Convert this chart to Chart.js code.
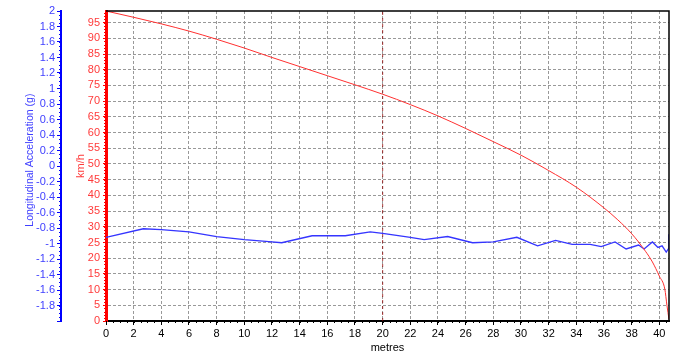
<!DOCTYPE html>
<html>
<head>
<meta charset="utf-8">
<script src="https://cdn.jsdelivr.net/npm/chart.js@4/dist/chart.umd.min.js"></script>
<style>
  html, body { margin: 0; padding: 0; background: #fff; }
</style>
</head>
<body>
<canvas id="chart" width="690" height="361"></canvas>
<script>
// speed trace (km/h against metres)
const speedDist = [0, 2, 4, 6, 8, 10, 12, 14, 16, 18, 20, 22, 24, 26, 28, 30, 32, 34, 36, 37, 38, 39, 39.5, 40, 40.4, 40.55, 40.7];
const speedKmh  = [98.7, 96.7, 94.6, 92.3, 89.7, 86.9, 83.9, 81.0, 78.1, 75.2, 72.2, 68.9, 65.3, 61.3, 57.1, 52.8, 47.9, 42.6, 36.0, 32.2, 27.8, 22.2, 18.8, 14.3, 10.1, 5.0, 0.5];

// longitudinal acceleration trace (g against metres)
const accDist = [0, 2.7, 4, 6, 8, 10, 12, 12.7, 14.9, 17.3, 19.1, 20, 22, 23, 24.7, 26.5, 28, 29.7, 31.2, 32.5, 33.7, 35, 35.8, 36.8, 37.6, 38.5, 38.9, 39.5, 39.9, 40.2, 40.5, 40.69, 40.69];
const accG    = [-0.92, -0.81, -0.82, -0.85, -0.91, -0.95, -0.98, -0.99, -0.90, -0.90, -0.85, -0.87, -0.92, -0.95, -0.91, -0.99, -0.98, -0.92, -1.03, -0.96, -1.01, -1.01, -1.04, -0.98, -1.07, -1.02, -1.07, -0.98, -1.05, -1.03, -1.11, -1.06, -0.88];

// cursor marker
const cursorX = 20;

const xTicksStep = 2;
const speedMax = 98.7;

const toXY = (xs, ys) => xs.map((x, i) => ({ x: x, y: ys[i] }));

// frame on top/right + minor tick marks
const framePlugin = {
    id: 'frame',
    afterDraw(chart) {
        const { ctx, chartArea: a, scales } = chart;
        ctx.save();
        ctx.lineWidth = 1;

        // minor ticks on acceleration axis
        const acc = scales.yAcc;
        ctx.strokeStyle = '#0000ff';
        ctx.beginPath();
        for (let v = -2; v <= 2.0001; v += 0.05) {
            const y = Math.round(acc.getPixelForValue(v)) + 0.5;
            ctx.moveTo(acc.right - 2, y);
            ctx.lineTo(acc.right, y);
        }
        ctx.stroke();

        // minor ticks on speed axis
        const sp = scales.ySpeed;
        ctx.strokeStyle = '#ff0000';
        ctx.beginPath();
        for (let v = 0; v <= speedMax; v += 1) {
            const y = Math.round(sp.getPixelForValue(v)) + 0.5;
            ctx.moveTo(a.left - 2, y);
            ctx.lineTo(a.left, y);
        }
        ctx.stroke();

        // minor ticks on distance axis
        const xs = scales.x;
        ctx.strokeStyle = '#000';
        ctx.beginPath();
        for (let v = 0; v <= 40.7; v += 0.5) {
            const x = Math.round(xs.getPixelForValue(v)) + 0.5;
            ctx.moveTo(x, a.bottom);
            ctx.lineTo(x, a.bottom + 2);
        }
        ctx.stroke();

        ctx.strokeStyle = '#000';
        ctx.lineWidth = 1.5;
        ctx.beginPath();
        ctx.moveTo(a.left, a.top);
        ctx.lineTo(a.right, a.top);
        ctx.lineTo(a.right, a.bottom);
        ctx.stroke();
        ctx.restore();
    }
};

const tickFont = { family: 'Arial, "Liberation Sans", sans-serif', size: 11 };

new Chart(document.getElementById('chart'), {
    type: 'line',
    data: {
        datasets: [
            {
                label: 'km/h',
                data: toXY(speedDist, speedKmh),
                yAxisID: 'ySpeed',
                borderColor: '#ff3030',
                borderWidth: 1,
                pointRadius: 0,
                cubicInterpolationMode: 'monotone'
            },
            {
                label: 'Longitudinal Acceleration (g)',
                data: toXY(accDist, accG),
                yAxisID: 'yAcc',
                borderColor: '#3535ff',
                borderWidth: 1.3,
                pointRadius: 0,
                tension: 0
            },
            {
                label: 'cursor',
                data: [{ x: cursorX, y: 0 }, { x: cursorX, y: speedMax }],
                yAxisID: 'ySpeed',
                borderColor: 'rgba(150,0,0,0.75)',
                borderWidth: 1,
                borderDash: [3, 3],
                pointRadius: 0
            }
        ]
    },
    options: {
        responsive: false,
        animation: false,
        events: [],
        layout: { padding: { top: 11, right: 21, left: 0, bottom: 0 } },
        plugins: { legend: { display: false }, tooltip: { enabled: false } },
        scales: {
            x: {
                type: 'linear',
                min: 0,
                max: 40.7,
                afterFit: (s) => { s.height = 40; },
                ticks: {
                    stepSize: xTicksStep,
                    includeBounds: false,
                    autoSkip: false,
                    maxRotation: 0,
                    padding: 2,
                    color: '#000',
                    font: tickFont
                },
                grid: { color: '#999999', tickColor: '#000', tickLength: 4, lineWidth: 1 },
                border: { display: true, color: '#000', width: 2, dash: [3, 2] },
                title: { display: true, text: 'metres', color: '#000', font: tickFont, padding: { top: 0, bottom: 6 } }
            },
            ySpeed: {
                type: 'linear',
                position: 'left',
                weight: 0,
                min: 0,
                max: speedMax,
                afterFit: (s) => { s.width = 45; },
                ticks: {
                    stepSize: 5,
                    includeBounds: false,
                    autoSkip: false,
                    padding: 3,
                    color: '#ff3b3b',
                    font: tickFont
                },
                grid: { color: '#999999', tickColor: '#ff0000', tickLength: 3 },
                border: { display: true, color: '#ff0000', width: 3, dash: [3, 2] },
                title: { display: true, text: 'km/h', color: '#ff3b3b', font: tickFont, padding: { top: 13, bottom: 0 } }
            },
            yAcc: {
                type: 'linear',
                position: 'left',
                weight: 1,
                min: -2,
                max: 2,
                afterFit: (s) => { s.width = 61; },
                ticks: {
                    stepSize: 0.2,
                    includeBounds: false,
                    autoSkip: false,
                    padding: 2,
                    color: '#4040ff',
                    font: tickFont,
                    callback: (v) => {
                        const r = Math.round(v * 10) / 10;
                        return r <= -2 ? '' : String(r);
                    }
                },
                grid: { display: true, drawOnChartArea: false, tickColor: '#0000ff', tickLength: 4 },
                border: { display: true, color: '#0000ff', width: 2 },
                title: { display: true, text: '    Longitudinal Acceleration (g)', color: '#4040ff', font: { family: tickFont.family, size: 10.5 }, padding: { top: 24, bottom: 0 } }
            }
        }
    },
    plugins: [framePlugin]
});
</script>
</body>
</html>
